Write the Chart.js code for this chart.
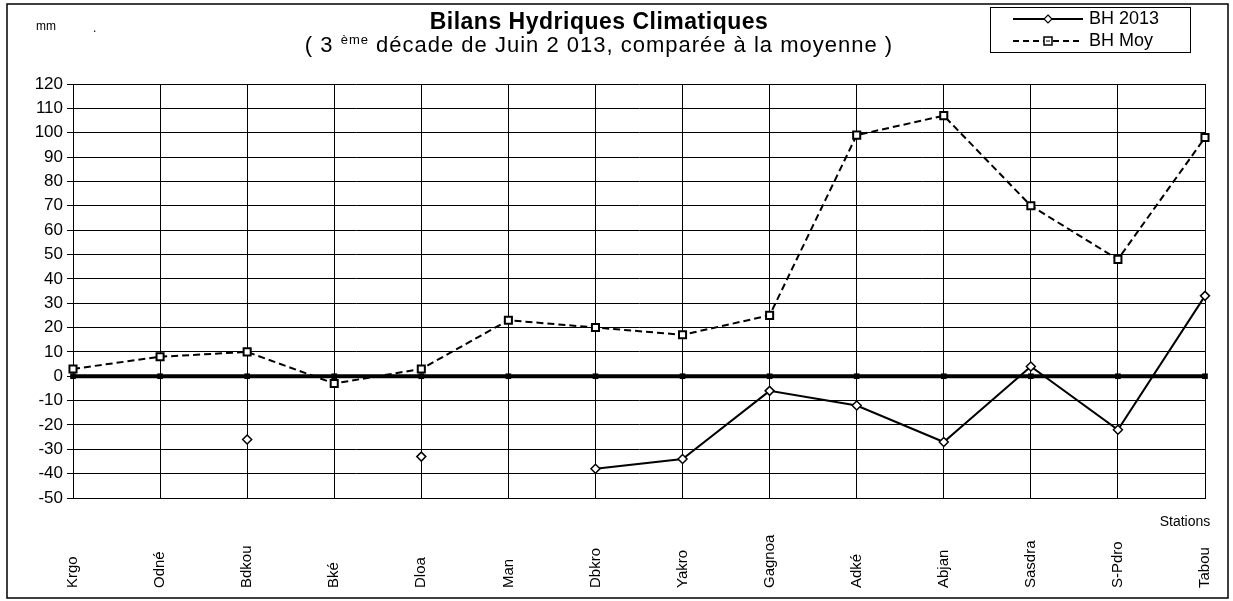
<!DOCTYPE html>
<html>
<head>
<meta charset="utf-8">
<script src="https://cdn.jsdelivr.net/npm/chart.js@4"></script>
<style>
  html, body { margin: 0; padding: 0; background: #fff; }
  canvas { display: block; }
</style>
</head>
<body>
<canvas id="chart-bh" width="1233" height="601"></canvas>
<script>
// ── Data ─────────────────────────────────────────────
const stations = ['Krgo', 'Odné', 'Bdkou', 'Bké', 'Dloa', 'Man', 'Dbkro', 'Yakro', 'Gagnoa', 'Adké', 'Abjan', 'Sasdra', 'S-Pdro', 'Tabou'];
const bh2013   = [null, null, -26, null, -33, null, -38, -34, -6, -12, -27, 4, -22, 33];
const bhMoy    = [3, 8, 10, -3, 3, 23, 20, 17, 25, 99, 107, 70, 48, 98];
const zeroLine = [0, 0, 0, 0, 0, 0, 0, 0, 0, 0, 0, 0, 0, 0];
const yMin = -50, yMax = 120, yStep = 10;

const FONT = "'Liberation Sans', Arial, sans-serif";
const NARROW = "'Liberation Sans Narrow', 'Liberation Sans', Arial, sans-serif";

// ── Title, legend, labels, frame ─────────────────────
const decor = {
  id: 'decor',
  afterDraw(chart) {
    const ctx = chart.ctx;
    const xs = chart.scales.x;
    ctx.save();
    ctx.fillStyle = '#000';
    ctx.strokeStyle = '#000';

    // outer frame
    ctx.lineWidth = 1.5;
    ctx.strokeRect(7, 4, 1221, 594);

    // mm
    ctx.font = '12px ' + NARROW;
    ctx.textAlign = 'left';
    ctx.textBaseline = 'middle';
    ctx.fillText('mm', 36, 27);
    ctx.fillText('.', 93, 29);

    // title
    ctx.textAlign = 'center';
    ctx.letterSpacing = '0.5px';
    ctx.font = 'bold 23px ' + FONT;
    ctx.fillText('Bilans Hydriques Climatiques', 599, 23);

    // subtitle with superscript
    const p1 = '( 3 ', sup = 'ème', p2 = ' décade de Juin 2 013, comparée à la moyenne )';
    ctx.letterSpacing = '1px';
    ctx.font = '22px ' + FONT;
    const w1 = ctx.measureText(p1).width, w2 = ctx.measureText(p2).width;
    ctx.font = '13px ' + FONT;
    const ws = ctx.measureText(sup).width;
    let x0 = 599 - (w1 + ws + w2) / 2;
    ctx.textAlign = 'left';
    ctx.font = '22px ' + FONT;
    ctx.fillText(p1, x0, 46);
    ctx.font = '13px ' + FONT;
    ctx.fillText(sup, x0 + w1, 40);
    ctx.font = '22px ' + FONT;
    ctx.fillText(p2, x0 + w1 + ws, 46);
    ctx.letterSpacing = '0px';

    // legend box
    ctx.lineWidth = 1;
    ctx.strokeRect(990.5, 7.5, 200, 45);
    ctx.font = '18px ' + FONT;
    ctx.textBaseline = 'middle';
    // BH 2013
    ctx.lineWidth = 2;
    ctx.setLineDash([]);
    ctx.beginPath(); ctx.moveTo(1013, 19); ctx.lineTo(1083, 19); ctx.stroke();
    ctx.lineWidth = 1.2;
    ctx.fillStyle = '#fff';
    ctx.beginPath();
    ctx.moveTo(1048, 15); ctx.lineTo(1052, 19); ctx.lineTo(1048, 23); ctx.lineTo(1044, 19); ctx.closePath();
    ctx.fill(); ctx.stroke();
    ctx.fillStyle = '#000';
    ctx.fillText('BH 2013', 1089, 19);
    // BH Moy
    ctx.lineWidth = 2;
    ctx.setLineDash([6, 4]);
    ctx.beginPath(); ctx.moveTo(1013, 41); ctx.lineTo(1083, 41); ctx.stroke();
    ctx.setLineDash([]);
    ctx.fillStyle = '#fff';
    ctx.fillRect(1044, 37, 8, 8);
    ctx.lineWidth = 1.5;
    ctx.strokeRect(1044, 37, 8, 8);
    ctx.fillStyle = '#000';
    ctx.fillRect(1046, 40.5, 4, 1);
    ctx.fillText('BH Moy', 1089, 41);

    // Stations
    ctx.font = '14px ' + NARROW;
    ctx.textAlign = 'center';
    ctx.fillText('Stations', 1185, 522);

    // rotated station labels
    ctx.font = '15px ' + FONT;
    ctx.textAlign = 'left';
    ctx.textBaseline = 'middle';
    stations.forEach((s, i) => {
      const px = xs.getPixelForTick(i);
      ctx.save();
      ctx.translate(px, 588);
      ctx.rotate(-Math.PI / 2);
      ctx.fillText(s, 0, 0);
      ctx.restore();
    });
    ctx.restore();
  }
};

// ── Chart ────────────────────────────────────────────
new Chart(document.getElementById('chart-bh'), {
  type: 'line',
  data: {
    labels: stations,
    datasets: [
      { label: 'BH 2013', data: bh2013, borderColor: '#000', borderWidth: 2, spanGaps: false,
        pointStyle: 'rectRot', pointRadius: 4.5, pointBackgroundColor: '#fff', pointBorderColor: '#000', pointBorderWidth: 1.5 },
      { label: 'BH Moy', data: bhMoy, borderColor: '#000', borderWidth: 2, borderDash: [7, 4],
        pointStyle: 'rect', pointRadius: 5, pointBackgroundColor: '#fff', pointBorderColor: '#000', pointBorderWidth: 2 },
      { label: 'zero', data: zeroLine, borderColor: '#000', borderWidth: 4,
        pointStyle: 'rect', pointRadius: 4, pointBackgroundColor: '#000', pointBorderColor: '#000', pointBorderWidth: 0 }
    ]
  },
  options: {
    responsive: false,
    animation: false,
    layout: { padding: { top: 84, right: 28, left: 0, bottom: 0 } },
    plugins: { legend: { display: false }, title: { display: false }, tooltip: { enabled: false } },
    scales: {
      x: {
        offset: false,
        grid: { color: '#000', lineWidth: 1, drawTicks: false },
        border: { color: '#000', width: 1 },
        ticks: { display: false },
        afterFit: (s) => { s.height = 103; }
      },
      y: {
        min: yMin, max: yMax,
        grid: { color: '#000', lineWidth: 1, tickLength: 6 },
        border: { color: '#000', width: 1 },
        ticks: { stepSize: yStep, color: '#000', padding: 4, font: { family: FONT, size: 17 } },
        afterFit: (s) => { s.width = 73; }
      }
    }
  },
  plugins: [decor]
});
</script>
</body>
</html>
